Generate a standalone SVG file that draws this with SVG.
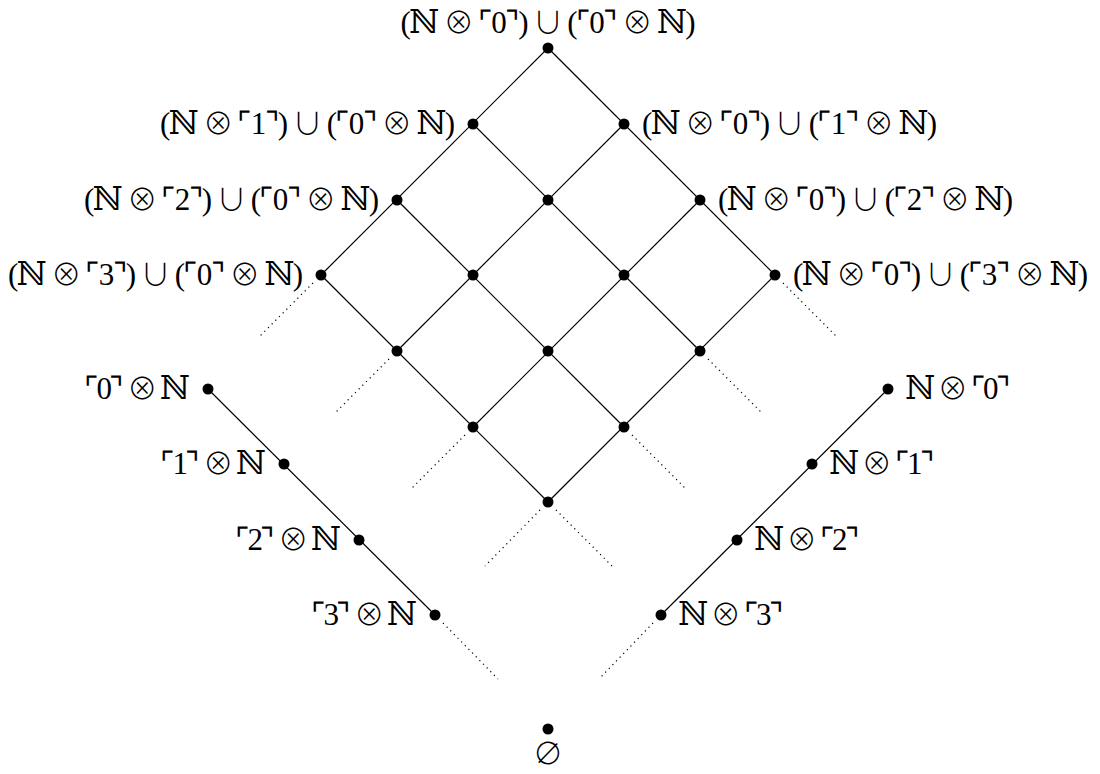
<svg xmlns="http://www.w3.org/2000/svg" width="1100" height="774" viewBox="0 0 1100 774">
<style>
.e{stroke:#000;stroke-width:1.2;fill:none}
.d{stroke:#000;stroke-width:1.2;fill:none;stroke-dasharray:1.2 4}
.n{fill:#000}
text{font-family:"Liberation Serif","DejaVu Serif",serif;font-size:31px;fill:#000}
.o{font-family:"Noto Sans CJK JP","DejaVu Sans",sans-serif;font-weight:300;font-size:30px}
.u{font-family:"Noto Sans CJK JP","DejaVu Sans",sans-serif;font-weight:300;font-size:30px}
.N{font-family:"DejaVu Serif",serif;font-size:33px}
.l{text-anchor:end}
.r{text-anchor:start}
.m{text-anchor:middle}
</style>
<rect width="1100" height="774" fill="#fff"/>
<g id="connectors">
<line class="e" x1="548" y1="48" x2="321" y2="275"/>
<line class="e" x1="624" y1="124" x2="397" y2="351"/>
<line class="e" x1="700" y1="200" x2="473" y2="427"/>
<line class="e" x1="775" y1="275" x2="548" y2="502"/>
<line class="e" x1="548" y1="48" x2="775" y2="275"/>
<line class="e" x1="473" y1="124" x2="700" y2="351"/>
<line class="e" x1="397" y1="200" x2="624" y2="427"/>
<line class="e" x1="321" y1="275" x2="548" y2="502"/>
<line class="e" x1="208" y1="389" x2="435" y2="615"/>
<line class="e" x1="888" y1="389" x2="661" y2="615"/>
<line class="d" x1="313" y1="283" x2="258" y2="338"/>
<line class="d" x1="389" y1="359" x2="334" y2="414"/>
<line class="d" x1="465" y1="435" x2="410" y2="490"/>
<line class="d" x1="540" y1="510" x2="485" y2="566"/>
<line class="d" x1="783" y1="283" x2="838" y2="338"/>
<line class="d" x1="708" y1="359" x2="763" y2="414"/>
<line class="d" x1="632" y1="435" x2="687" y2="490"/>
<line class="d" x1="556" y1="510" x2="612" y2="566"/>
<line class="d" x1="443" y1="623" x2="498" y2="679"/>
<line class="d" x1="653" y1="623" x2="599" y2="679"/>
</g>
<g id="n00"><circle class="n" cx="548" cy="48" r="5.5"/><text class="m" x="548" y="33" textLength="295" lengthAdjust="spacing">(<tspan class="N">ℕ</tspan> <tspan class="o">⊗</tspan> ⌜0⌝) <tspan class="u">∪</tspan> (⌜0⌝ <tspan class="o">⊗</tspan> <tspan class="N">ℕ</tspan>)</text></g>
<g id="n10"><circle class="n" cx="473" cy="124" r="5.5"/><text class="l" x="455" y="134" textLength="295" lengthAdjust="spacing">(<tspan class="N">ℕ</tspan> <tspan class="o">⊗</tspan> ⌜1⌝) <tspan class="u">∪</tspan> (⌜0⌝ <tspan class="o">⊗</tspan> <tspan class="N">ℕ</tspan>)</text></g>
<g id="n01"><circle class="n" cx="624" cy="124" r="5.5"/><text class="r" x="642" y="134" textLength="295" lengthAdjust="spacing">(<tspan class="N">ℕ</tspan> <tspan class="o">⊗</tspan> ⌜0⌝) <tspan class="u">∪</tspan> (⌜1⌝ <tspan class="o">⊗</tspan> <tspan class="N">ℕ</tspan>)</text></g>
<g id="n20"><circle class="n" cx="397" cy="200" r="5.5"/><text class="l" x="379" y="210" textLength="295" lengthAdjust="spacing">(<tspan class="N">ℕ</tspan> <tspan class="o">⊗</tspan> ⌜2⌝) <tspan class="u">∪</tspan> (⌜0⌝ <tspan class="o">⊗</tspan> <tspan class="N">ℕ</tspan>)</text></g>
<g id="n11"><circle class="n" cx="548" cy="200" r="5.5"/></g>
<g id="n02"><circle class="n" cx="700" cy="200" r="5.5"/><text class="r" x="718" y="210" textLength="295" lengthAdjust="spacing">(<tspan class="N">ℕ</tspan> <tspan class="o">⊗</tspan> ⌜0⌝) <tspan class="u">∪</tspan> (⌜2⌝ <tspan class="o">⊗</tspan> <tspan class="N">ℕ</tspan>)</text></g>
<g id="n30"><circle class="n" cx="321" cy="275" r="5.5"/><text class="l" x="303" y="285" textLength="295" lengthAdjust="spacing">(<tspan class="N">ℕ</tspan> <tspan class="o">⊗</tspan> ⌜3⌝) <tspan class="u">∪</tspan> (⌜0⌝ <tspan class="o">⊗</tspan> <tspan class="N">ℕ</tspan>)</text></g>
<g id="n21"><circle class="n" cx="473" cy="275" r="5.5"/></g>
<g id="n12"><circle class="n" cx="624" cy="275" r="5.5"/></g>
<g id="n03"><circle class="n" cx="775" cy="275" r="5.5"/><text class="r" x="793" y="285" textLength="295" lengthAdjust="spacing">(<tspan class="N">ℕ</tspan> <tspan class="o">⊗</tspan> ⌜0⌝) <tspan class="u">∪</tspan> (⌜3⌝ <tspan class="o">⊗</tspan> <tspan class="N">ℕ</tspan>)</text></g>
<g id="n31"><circle class="n" cx="397" cy="351" r="5.5"/></g>
<g id="n22"><circle class="n" cx="548" cy="351" r="5.5"/></g>
<g id="n13"><circle class="n" cx="700" cy="351" r="5.5"/></g>
<g id="n32"><circle class="n" cx="473" cy="427" r="5.5"/></g>
<g id="n23"><circle class="n" cx="624" cy="427" r="5.5"/></g>
<g id="n33"><circle class="n" cx="548" cy="502" r="5.5"/></g>
<g id="a0"><circle class="n" cx="208" cy="389" r="5.5"/><text class="l" x="190" y="399" textLength="106" lengthAdjust="spacing">⌜0⌝ <tspan class="o">⊗</tspan> <tspan class="N">ℕ</tspan></text></g>
<g id="a1"><circle class="n" cx="284" cy="464" r="5.5"/><text class="l" x="266" y="474" textLength="106" lengthAdjust="spacing">⌜1⌝ <tspan class="o">⊗</tspan> <tspan class="N">ℕ</tspan></text></g>
<g id="a2"><circle class="n" cx="359" cy="540" r="5.5"/><text class="l" x="341" y="550" textLength="106" lengthAdjust="spacing">⌜2⌝ <tspan class="o">⊗</tspan> <tspan class="N">ℕ</tspan></text></g>
<g id="a3"><circle class="n" cx="435" cy="615" r="5.5"/><text class="l" x="417" y="625" textLength="106" lengthAdjust="spacing">⌜3⌝ <tspan class="o">⊗</tspan> <tspan class="N">ℕ</tspan></text></g>
<g id="b0"><circle class="n" cx="888" cy="389" r="5.5"/><text class="r" x="905" y="399" textLength="106" lengthAdjust="spacing"><tspan class="N">ℕ</tspan> <tspan class="o">⊗</tspan> ⌜0⌝</text></g>
<g id="b1"><circle class="n" cx="812" cy="464" r="5.5"/><text class="r" x="829" y="474" textLength="106" lengthAdjust="spacing"><tspan class="N">ℕ</tspan> <tspan class="o">⊗</tspan> ⌜1⌝</text></g>
<g id="b2"><circle class="n" cx="737" cy="540" r="5.5"/><text class="r" x="754" y="550" textLength="106" lengthAdjust="spacing"><tspan class="N">ℕ</tspan> <tspan class="o">⊗</tspan> ⌜2⌝</text></g>
<g id="b3"><circle class="n" cx="661" cy="615" r="5.5"/><text class="r" x="678" y="625" textLength="106" lengthAdjust="spacing"><tspan class="N">ℕ</tspan> <tspan class="o">⊗</tspan> ⌜3⌝</text></g>
<g id="bottom"><circle class="n" cx="548" cy="729" r="5.5"/><text class="m o" x="548" y="764">∅</text></g>
</svg>
